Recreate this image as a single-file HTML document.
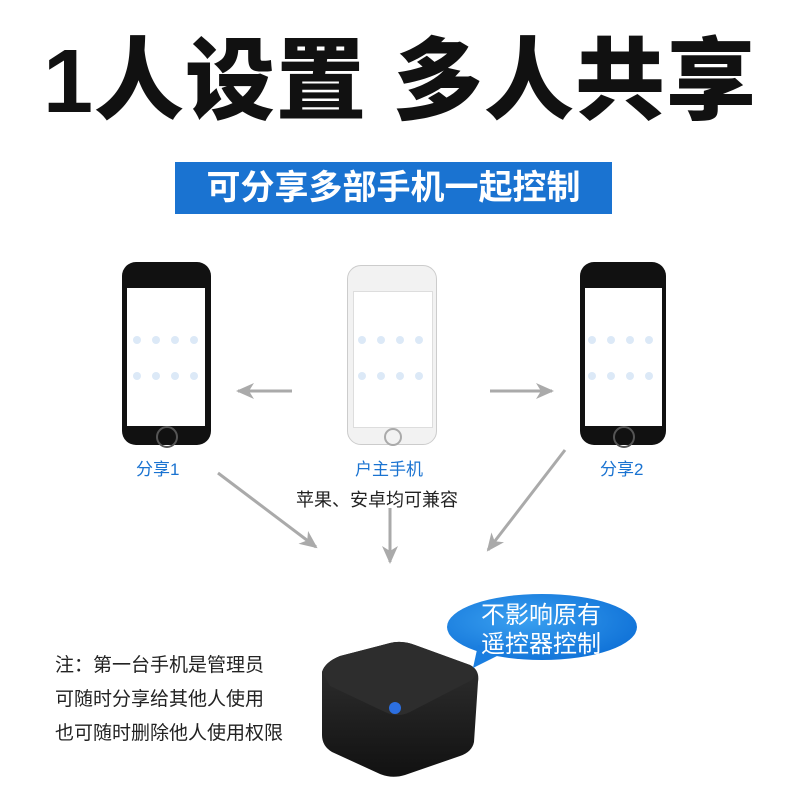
<!DOCTYPE html><html><head><meta charset="utf-8"><style>
body{margin:0;width:800px;height:800px;background:#fff;position:relative;overflow:hidden;font-family:"Liberation Sans","Noto Sans CJK SC",sans-serif}
.a{position:absolute}
.title{left:0;width:800px;top:30px;text-align:center;font-size:90px;font-weight:900;color:#111;letter-spacing:1px;line-height:104px}
.ban{left:175px;top:162px;width:437px;height:52px;background:#1a73d1;color:#fff;font-size:34px;font-weight:bold;text-align:center;line-height:52px}
.ph{border-radius:14px}
.scr{position:absolute;background:#fff}
.lbl{font-size:17px;color:#1a73d1}
.note{left:55px;font-size:19px;color:#222}
</style></head><body>
<div class="a title">1人设置 多人共享</div>
<div class="a ban">可分享多部手机一起控制</div>

<div class="a ph" style="left:122px;top:262px;width:89px;height:183px;background:#111"><div class="scr" style="left:5px;top:26px;width:78px;height:138px"></div><div class="a" style="left:34px;top:164px;width:18px;height:18px;border-radius:50%;border:2px solid #555"></div></div>
<div class="a ph" style="left:347px;top:265px;width:90px;height:180px;background:#f2f2f2;border:1px solid #ccc;box-sizing:border-box"><div class="scr" style="left:5px;top:25px;width:78px;height:135px;border:1px solid #ddd"></div><div class="a" style="left:36px;top:162px;width:14px;height:14px;border-radius:50%;border:2px solid #aaa"></div></div>
<div class="a ph" style="left:580px;top:262px;width:86px;height:183px;background:#111"><div class="scr" style="left:5px;top:26px;width:77px;height:138px"></div><div class="a" style="left:33px;top:164px;width:18px;height:18px;border-radius:50%;border:2px solid #555"></div></div>

<svg class="a" style="left:0;top:0" width="800" height="800">
<defs><marker id="m" markerWidth="18" markerHeight="16" refX="16" refY="8" orient="auto" markerUnits="userSpaceOnUse"><path d="M0,0L18,8L0,16L5,8z" fill="#aaa"/></marker>
<radialGradient id="b" cx="0.4" cy="0.4" r="0.7"><stop offset="0" stop-color="#3aa0f0"/><stop offset="1" stop-color="#0d6fd6"/></radialGradient>
<linearGradient id="d" x1="0" y1="0" x2="0" y2="1"><stop offset="0" stop-color="#333"/><stop offset="1" stop-color="#111"/></linearGradient></defs>
<g stroke="#aaa" stroke-width="3" fill="none" marker-end="url(#m)">
<line x1="292" y1="391" x2="238" y2="391"/><line x1="490" y1="391" x2="552" y2="391"/>
<line x1="218" y1="473" x2="316" y2="547"/><line x1="390" y1="508" x2="390" y2="562"/><line x1="565" y1="450" x2="488" y2="550"/></g>
<g fill="#dce9f7"><g id="r"><circle cx="137" cy="340" r="4"/><circle cx="156" cy="340" r="4"/><circle cx="175" cy="340" r="4"/><circle cx="194" cy="340" r="4"/><circle cx="137" cy="376" r="4"/><circle cx="156" cy="376" r="4"/><circle cx="175" cy="376" r="4"/><circle cx="194" cy="376" r="4"/></g>
<use href="#r" x="225"/><use href="#r" x="455"/></g>
<path d="M322,672 Q325,662 340,656 L390,643 Q402,640 415,645 L470,665 Q480,670 478,682 L474,742 Q472,752 460,756 L405,775 Q392,779 380,774 L332,752 Q322,746 322,735z" fill="url(#d)"/>
<path d="M322,672 Q325,662 340,656 L390,643 Q402,640 415,645 L470,665 Q480,670 472,680 L410,712 Q398,718 385,712 L330,686z" fill="#2d2d2d"/>
<circle cx="395" cy="708" r="6" fill="#2c6fe0"/>
<ellipse cx="542" cy="627" rx="95" ry="33" fill="url(#b)"/>
<path d="M478,645 L473,668 L505,652z" fill="#1a7ee0"/>
<text x="541" y="623" font-size="24" fill="#fff" text-anchor="middle" font-family="Liberation Sans,Noto Sans CJK SC,sans-serif">不影响原有</text>
<text x="541" y="652" font-size="24" fill="#fff" text-anchor="middle" font-family="Liberation Sans,Noto Sans CJK SC,sans-serif">遥控器控制</text>
</svg>

<div class="a lbl" style="left:136px;top:455px">分享1</div>
<div class="a lbl" style="left:355px;top:455px">户主手机</div>
<div class="a lbl" style="left:600px;top:455px">分享2</div>
<div class="a" style="left:296px;top:486px;font-size:18px;color:#222">苹果、安卓均可兼容</div>
<div class="a note" style="top:650px">注：第一台手机是管理员</div>
<div class="a note" style="top:684px">可随时分享给其他人使用</div>
<div class="a note" style="top:718px">也可随时删除他人使用权限</div>
</body></html>
